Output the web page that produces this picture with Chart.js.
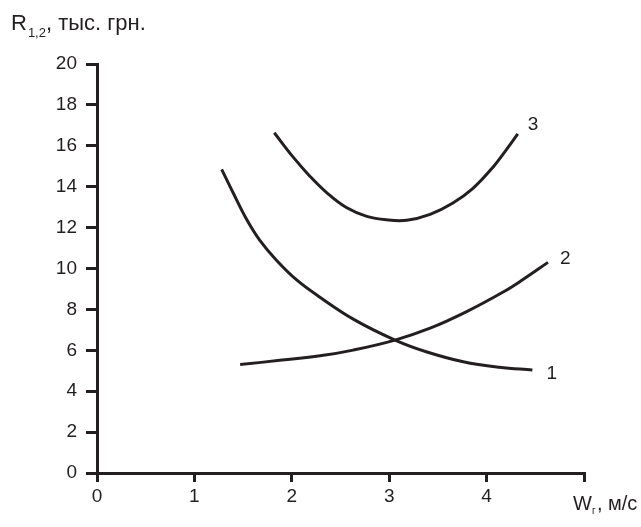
<!DOCTYPE html>
<html><head><meta charset="utf-8">
<script src="https://cdn.jsdelivr.net/npm/chart.js@4/dist/chart.umd.min.js"></script>
<style>html,body{margin:0;padding:0;background:#fff}#wrap{width:641px;height:527px;position:relative}</style>
</head><body><div id="wrap"><canvas id="c" width="641" height="527"></canvas></div>
<script>
const curve1X = [1.28, 1.40, 1.54, 1.67, 1.84, 2.05, 2.27, 2.64, 3.06, 3.38, 3.76, 4.13, 4.47];
const curve1Y = [14.85, 13.68, 12.37, 11.39, 10.42, 9.44, 8.66, 7.50, 6.50, 5.93, 5.44, 5.17, 5.04];
const curve2X = [1.47, 1.90, 2.29, 2.63, 3.06, 3.42, 3.79, 4.17, 4.37, 4.63];
const curve2Y = [5.30, 5.52, 5.73, 6.01, 6.50, 7.08, 7.88, 8.85, 9.45, 10.30];
const curve3X = [1.82, 2.01, 2.19, 2.36, 2.56, 2.77, 2.97, 3.18, 3.42, 3.65, 3.86, 4.07, 4.20, 4.32];
const curve3Y = [16.64, 15.47, 14.49, 13.70, 12.98, 12.55, 12.38, 12.36, 12.65, 13.19, 13.92, 14.98, 15.79, 16.58];
const curveLabels = ['1', '2', '3'];
const xTickLabels = ['0', '1', '2', '3', '4', ''];
const yTickLabels = ['0','2','4','6','8','10','12','14','16','18','20'];

const INK = '#231f20';
const FONT = '"Liberation Sans", Arial, sans-serif';
const pts = (xs, ys) => xs.map((x, i) => ({x, y: ys[i]}));
const ds = (xs, ys, name) => ({
  label: name, data: pts(xs, ys), showLine: true, borderColor: INK, borderWidth: 3,
  pointRadius: 0, tension: 0.4, fill: false
});

const textPlugin = {
  id: 'texts',
  afterDraw(chart) {
    const ctx = chart.ctx;
    ctx.save();
    ctx.fillStyle = INK;
    ctx.textBaseline = 'alphabetic';
    // y-axis title
    ctx.font = '22px ' + FONT;
    ctx.fillText('R', 11, 30);
    let w = ctx.measureText('R').width;
    ctx.font = '13px ' + FONT;
    ctx.fillText('1,2', 11 + w + 1, 37);
    let w2 = ctx.measureText('1,2').width;
    ctx.font = '22px ' + FONT;
    ctx.fillText(', тыс. грн.', 11 + w + 1 + w2, 30);
    // x-axis title
    ctx.font = '20px ' + FONT;
    ctx.fillText('W', 573, 510);
    w = ctx.measureText('W').width;
    ctx.font = '10px ' + FONT;
    ctx.fillText('г', 573 + w, 514);
    ctx.font = '20px ' + FONT;
    ctx.fillText(', м/с', 573 + w + 5, 510);
    // curve labels
    ctx.font = '19px ' + FONT;
    const dsets = chart.data.datasets;
    const offs = [[14, 9], [12, 2], [10, -4]];
    dsets.forEach((d, i) => {
      const last = d.data[d.data.length - 1];
      const px = chart.scales.x.getPixelForValue(last.x) + offs[i][0];
      const py = chart.scales.y.getPixelForValue(last.y) + offs[i][1];
      ctx.fillText(curveLabels[i], px, py);
    });
    ctx.restore();
  }
};

new Chart(document.getElementById('c'), {
  type: 'scatter',
  data: { datasets: [
    ds(curve1X, curve1Y, curveLabels[0]),
    ds(curve2X, curve2Y, curveLabels[1]),
    ds(curve3X, curve3Y, curveLabels[2])
  ]},
  options: {
    responsive: false, animation: false, devicePixelRatio: 1,
    layout: { padding: { left: 0, top: 64, right: 57, bottom: 0 } },
    plugins: { legend: { display: false }, tooltip: { enabled: false } },
    scales: {
      x: {
        type: 'linear', min: 0, max: 5,
        afterFit(s) { s.height = 54; },
        afterBuildTicks(s) { s.ticks = xTickLabels.map((_, i) => ({value: i})); },
        grid: { drawOnChartArea: false, drawTicks: true, tickLength: 9, color: INK, lineWidth: 3 },
        border: { display: true, color: INK, width: 3 },
        ticks: { color: INK, font: { family: FONT, size: 19 }, padding: 3, maxRotation: 0,
          callback: (v, i) => xTickLabels[i] }
      },
      y: {
        type: 'linear', min: 0, max: 20,
        afterFit(s) { s.width = 97; },
        afterBuildTicks(s) { s.ticks = yTickLabels.map(t => ({value: Number(t)})); },
        grid: { drawOnChartArea: false, drawTicks: true, tickLength: 11, color: INK, lineWidth: 3 },
        border: { display: true, color: INK, width: 3 },
        ticks: { color: INK, font: { family: FONT, size: 19 }, padding: 9,
          callback: (v, i) => yTickLabels[i] }
      }
    }
  },
  plugins: [textPlugin]
});
</script></body></html>
